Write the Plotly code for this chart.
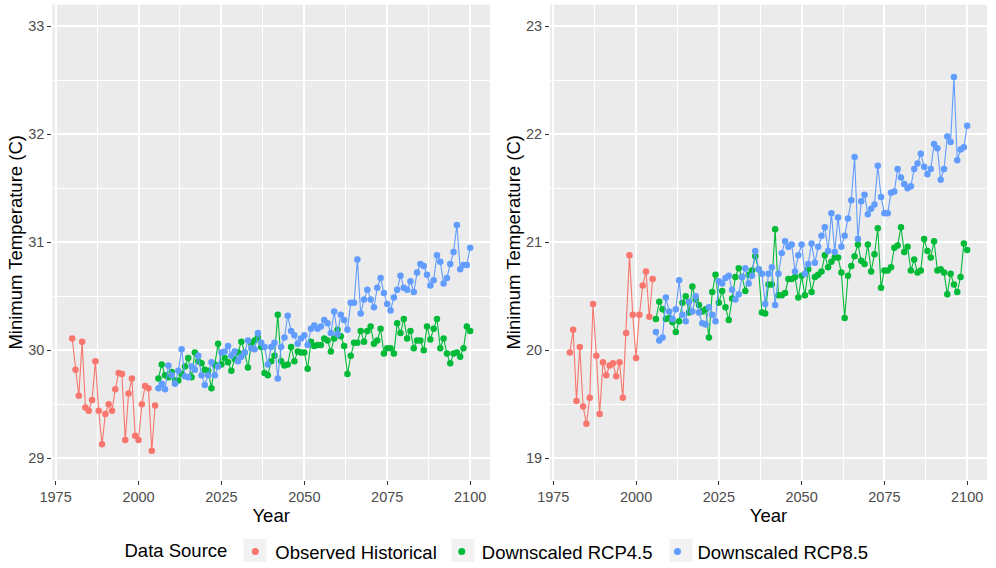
import plotly.graph_objects as go

years_hist = list(range(1980, 2006))
years_proj = list(range(2006, 2101))

left_hist = [30.11, 29.82, 29.58, 30.08, 29.47, 29.44, 29.54, 29.90, 29.44, 29.13,
             29.41, 29.50, 29.44, 29.64, 29.79, 29.78, 29.17, 29.60, 29.74, 29.21,
             29.17, 29.50, 29.67, 29.65, 29.07, 29.49]
right_hist = [19.98, 20.19, 19.53, 20.03, 19.48, 19.32, 19.56, 20.43, 19.95, 19.41,
              19.89, 19.77, 19.86, 19.88, 19.76, 19.89, 19.56, 20.16, 20.88, 20.33,
              19.93, 20.33, 20.60, 20.73, 20.31, 20.66]

left_rcp45 = [29.74, 29.87, 29.77, 29.75, 29.80, 29.72, 29.72, 29.78, 29.85, 29.93,
              29.75, 29.98, 29.90, 29.88, 29.82, 29.81, 29.65, 29.87, 30.06, 29.87,
              29.93, 29.89, 29.81, 29.92, 29.98, 30.08, 29.98, 29.84, 30.06, 30.09,
              30.12, 30.03, 29.79, 29.77, 29.90, 29.95, 30.33, 29.90, 29.86, 29.87,
              30.03, 29.90, 29.99, 29.98, 29.98, 29.83, 30.08, 30.04, 30.05, 30.05,
              30.11, 30.09, 29.99, 30.11, 30.19, 30.13, 30.04, 29.78, 29.95, 30.07,
              30.07, 30.18, 30.08, 30.18, 30.22, 30.06, 30.09, 30.20, 29.97, 30.02,
              30.02, 29.97, 30.25, 30.16, 30.29, 30.11, 30.18, 30.02, 30.09, 30.09,
              30.00, 30.22, 30.10, 30.20, 30.29, 30.02, 30.11, 29.97, 29.88, 29.97,
              29.98, 29.94, 30.02, 30.22, 30.18]
left_rcp85 = [29.65, 29.69, 29.64, 29.86, 29.77, 29.69, 29.81, 30.01, 29.76, 29.75,
              29.85, 29.82, 29.95, 29.77, 29.68, 29.77, 29.89, 29.77, 29.85, 29.98,
              29.99, 30.04, 29.95, 29.99, 29.90, 29.94, 29.98, 30.09, 30.02, 30.01,
              30.16, 30.07, 30.03, 29.87, 30.03, 30.07, 29.74, 30.03, 30.12, 30.32,
              30.18, 30.14, 30.06, 30.11, 30.14, 30.05, 30.20, 30.23, 30.20, 30.22,
              30.28, 30.25, 30.16, 30.36, 30.15, 30.33, 30.28, 30.19, 30.44, 30.44,
              30.84, 30.34, 30.47, 30.56, 30.47, 30.40, 30.58, 30.67, 30.53, 30.43,
              30.37, 30.49, 30.56, 30.69, 30.58, 30.56, 30.64, 30.54, 30.72, 30.80,
              30.78, 30.70, 30.60, 30.65, 30.88, 30.82, 30.62, 30.67, 30.80, 30.91,
              31.16, 30.75, 30.79, 30.79, 30.95]
right_rcp45 = [20.29, 20.45, 20.38, 20.29, 20.30, 20.26, 20.17, 20.27, 20.44, 20.50,
               20.35, 20.59, 20.47, 20.42, 20.36, 20.38, 20.12, 20.54, 20.70, 20.44,
               20.55, 20.40, 20.28, 20.48, 20.68, 20.76, 20.68, 20.55, 20.70, 20.74,
               20.87, 20.75, 20.35, 20.34, 20.61, 20.61, 21.12, 20.51, 20.51, 20.53,
               20.66, 20.66, 20.68, 20.49, 20.69, 20.51, 20.75, 20.54, 20.68, 20.70,
               20.73, 20.88, 20.77, 20.82, 20.86, 20.86, 20.72, 20.30, 20.69, 20.78,
               20.87, 20.98, 20.83, 20.80, 20.98, 20.73, 20.89, 21.13, 20.58, 20.74,
               20.74, 20.77, 20.95, 20.97, 21.14, 20.91, 20.96, 20.74, 20.84, 20.72,
               20.74, 21.03, 20.92, 20.86, 21.01, 20.74, 20.75, 20.72, 20.52, 20.71,
               20.61, 20.54, 20.68, 20.99, 20.93]
right_rcp85 = [20.17, 20.09, 20.12, 20.49, 20.36, 20.29, 20.38, 20.65, 20.33, 20.27,
               20.45, 20.36, 20.50, 20.35, 20.25, 20.24, 20.40, 20.33, 20.27, 20.64,
               20.62, 20.67, 20.69, 20.56, 20.47, 20.52, 20.68, 20.76, 20.62, 20.69,
               20.92, 20.75, 20.71, 20.43, 20.71, 20.77, 20.42, 20.71, 20.90, 21.01,
               20.96, 20.98, 20.73, 20.88, 20.98, 20.71, 20.80, 20.99, 20.81, 20.96,
               21.06, 21.14, 20.92, 21.27, 20.91, 21.23, 20.96, 21.06, 21.22, 21.39,
               21.79, 21.03, 21.38, 21.44, 21.26, 21.31, 21.35, 21.71, 21.42, 21.27,
               21.27, 21.46, 21.47, 21.68, 21.60, 21.54, 21.50, 21.52, 21.68, 21.73,
               21.82, 21.70, 21.63, 21.68, 21.91, 21.87, 21.58, 21.68, 21.98, 21.93,
               22.53, 21.76, 21.86, 21.88, 22.08]

series_names = ["Observed Historical", "Downscaled RCP4.5", "Downscaled RCP8.5"]
series_colors = ["#F8766D", "#00BA38", "#619CFF"]
x_ticks = [1975, 2000, 2025, 2050, 2075, 2100]

FONT = "Arial, Liberation Sans, sans-serif"
W, H = 996, 568
fig = go.Figure()

panels = [
    ("x", "y", [(years_hist, left_hist), (years_proj, left_rcp45), (years_proj, left_rcp85)]),
    ("x2", "y2", [(years_hist, right_hist), (years_proj, right_rcp45), (years_proj, right_rcp85)]),
]
for xa, ya, data in panels:
    for (xs, ys), name, col in zip(data, series_names, series_colors):
        fig.add_trace(go.Scatter(
            x=xs, y=ys, mode="lines+markers", xaxis=xa, yaxis=ya,
            line=dict(color=col, width=1.1),
            marker=dict(color=col, size=6.5),
            showlegend=False, hoverinfo="x+y", name=name))

for name, col in zip(series_names, series_colors):
    fig.add_trace(go.Scatter(x=[None], y=[None], mode="markers", name=name,
                             marker=dict(color=col, size=7), showlegend=True))

# light grey legend key backgrounds (ggplot style)
for cx in [255, 463, 681]:
    fig.add_shape(type="rect", xref="paper", yref="paper",
                  x0=(cx - 11.5) / W, x1=(cx + 11.5) / W,
                  y0=(H - 562) / H, y1=(H - 539) / H,
                  fillcolor="#F2F2F2", line=dict(width=0), layer="below")

axis_common = dict(
    showgrid=True, gridcolor="white", gridwidth=1.8, zeroline=False, automargin=False,
    showline=False, ticks="outside", ticklen=4, tickwidth=1.1, tickcolor="#333333",
    tickfont=dict(family=FONT, size=14.5, color="#4D4D4D"),
    title_font=dict(family=FONT, size=18.5, color="black"),
)
xcommon = dict(axis_common, range=[1974, 2106], tickvals=x_ticks,
               minor=dict(showgrid=True, gridcolor="white", gridwidth=0.9, dtick=12.5, tick0=1975, ticks=""),
               title=dict(text="Year", standoff=4))
fig.update_layout(
    width=W, height=H,
    margin=dict(l=0, r=0, t=0, b=0, autoexpand=False),
    paper_bgcolor="white", plot_bgcolor="#EBEBEB",
    font=dict(family=FONT, color="black"),
    xaxis=dict(xcommon, domain=[0.0525, 0.492], anchor="y"),
    xaxis2=dict(xcommon, domain=[0.5522, 0.991], anchor="y2"),
    yaxis=dict(axis_common, domain=[0.155, 0.9917], anchor="x", range=[28.8, 33.2], dtick=1, tick0=29,
               minor=dict(showgrid=True, gridcolor="white", gridwidth=0.9, dtick=0.5, tick0=29, ticks=""),
               title=dict(text="Minimum Temperature (C)", standoff=0)),
    yaxis2=dict(axis_common, domain=[0.155, 0.9917], anchor="x2", range=[18.8, 23.2], dtick=1, tick0=19,
                minor=dict(showgrid=True, gridcolor="white", gridwidth=0.9, dtick=0.5, tick0=19, ticks=""),
                title=dict(text="Minimum Temperature (C)", standoff=0)),
    legend=dict(orientation="h", x=0.5, xanchor="center", y=0.028, yanchor="middle",
                font=dict(family=FONT, size=18.5, color="black"),
                title=dict(text="Data Source", side="left", font=dict(family=FONT, size=18.5)),
                itemwidth=30, bgcolor="rgba(0,0,0,0)", tracegroupgap=0),
)

fig.write_html("out.html", config={"displayModeBar": False},
               post_script="document.body.style.margin='0px';")
